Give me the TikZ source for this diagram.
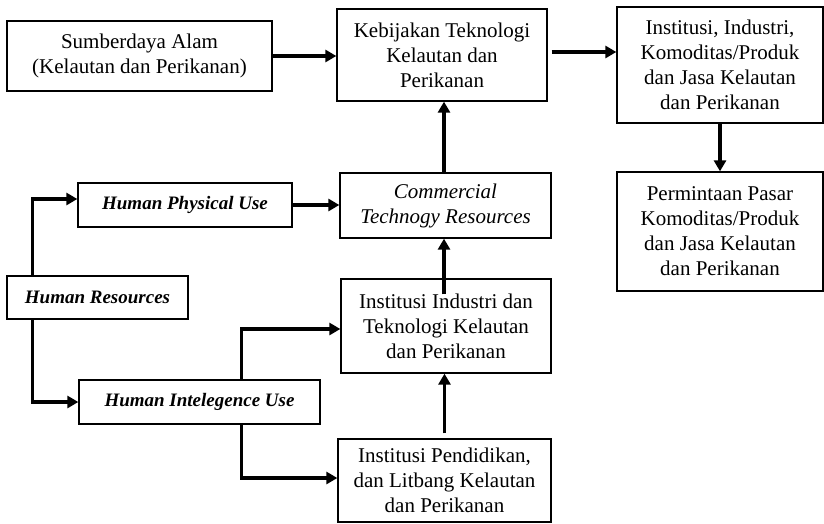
\documentclass[tikz,border=0pt]{standalone}
\usepackage{fontspec}
\setmainfont{Liberation Serif}
\usetikzlibrary{arrows.meta,calc}
\begin{document}
\begin{tikzpicture}[x=1pt,y=-1pt,
  box/.style={draw, line width=1.3pt, align=center, inner sep=2pt,
    font=\fontsize{21}{25}\selectfont},
  hbox/.style={box, font=\fontsize{19}{22}\selectfont\bfseries\itshape},
  arr/.style={line width=3.2pt, -{Triangle[length=11pt,width=12pt]}}]
\useasboundingbox (0,0) rectangle (824,524);

% boxes
\node[box, minimum width=265, minimum height=70] (sda) at (139.5,56)
  {Sumberdaya Alam\\(Kelautan dan Perikanan)};
\node[box, minimum width=210, minimum height=92] (keb) at (442,55)
  {Kebijakan Teknologi\\Kelautan dan\\Perikanan};
\node[box, minimum width=206, minimum height=116] (iik) at (720,65)
  {Institusi, Industri,\\Komoditas/Produk\\dan Jasa Kelautan\\dan Perikanan};
\node[box, minimum width=206, minimum height=119] (per) at (720,231.5)
  {Permintaan Pasar\\Komoditas/Produk\\dan Jasa Kelautan\\dan Perikanan};
\node[box, minimum width=211, minimum height=65, font=\fontsize{21}{25}\selectfont\itshape]
  (ctr) at (445.5,205.5) {Commercial\\Technogy Resources};
\node[hbox, minimum width=214, minimum height=44] (hpu) at (185,205) {Human Physical Use};
\node[hbox, minimum width=181, minimum height=43] (hr) at (97.5,297.5) {Human Resources};
\node[hbox, minimum width=241, minimum height=44] (hiu) at (199.5,402) {Human Intelegence Use};
\node[box, minimum width=210, minimum height=94] (iit) at (446,326)
  {Institusi Industri dan\\Teknologi Kelautan\\dan Perikanan};
\node[box, minimum width=213, minimum height=83] (ipd) at (444.5,480.5)
  {Institusi Pendidikan,\\dan Litbang Kelautan\\dan Perikanan};

% connectors
\draw[arr] (sda.east) -- (sda.east -| keb.west);
\draw[arr] ([xshift=4pt,yshift=3pt]keb.east) -- ([yshift=3pt]keb.east -| iik.west);
\draw[arr] (iik.south) -- (per.north);
\draw[arr] ([xshift=-1.5pt]ctr.north) -- ([xshift=-1.5pt]ctr.north |- keb.south);
\draw[arr] (hpu.east) -- (hpu.east -| ctr.west);
\draw[arr] ([xshift=26pt]hr.north west) |- ([yshift=6pt]hpu.west);
\draw[arr] ([xshift=26pt]hr.south west) |- (hiu.west);
\draw[arr] ([xshift=163pt]hiu.north west) |- ([yshift=-3pt]iit.west);
\draw[arr] ([xshift=163pt]hiu.south west) |- ([yshift=2.5pt]ipd.west);
\draw[arr] ([xshift=-2pt,yshift=-16pt]iit.north) -- ([xshift=-2pt]iit.north |- ctr.south);
\draw[arr] ([yshift=5pt]ipd.north) -- (ipd.north |- iit.south);
\end{tikzpicture}
\end{document}
